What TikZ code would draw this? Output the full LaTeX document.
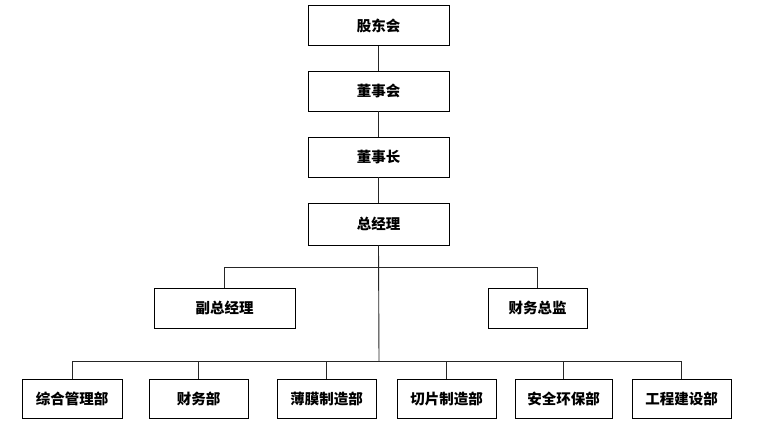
\documentclass[tikz,border=0pt]{standalone}
\usepackage{fontspec}
\newfontfamily\cjk{Noto Sans CJK SC}
\begin{document}
\begin{tikzpicture}[x=1pt,y=-1pt,
  box/.style={draw=black, line width=0.8pt, inner sep=0pt, fill=white,
    font=\cjk\bfseries\fontsize{14.5}{15}\selectfont, minimum height=40pt},
  top/.style={box, minimum width=141pt},
  dept/.style={box, minimum width=99pt, minimum height=39pt},
  conn/.style={line width=0.9pt, draw=black!85}]
\useasboundingbox[fill=white] (0,0) rectangle (763,430);
\node[top] (gd) at (378.5,25.5) {股东会};
\node[top] (dsh) at (378.5,91) {董事会};
\node[top] (dsz) at (378.5,157) {董事长};
\node[top, minimum height=42pt] (zjl) at (378.5,224) {总经理};
\node[top] (fz) at (224.5,308) {副总经理};
\node[box, minimum width=99pt] (cwzj) at (537.5,308) {财务总监};
\node[dept, minimum width=100pt] (d1) at (72,398.5) {综合管理部};
\node[dept] (d2) at (198.5,398.5) {财务部};
\node[dept] (d3) at (326.5,398.5) {薄膜制造部};
\node[dept] (d4) at (446.5,398.5) {切片制造部};
\node[dept, minimum width=97pt] (d5) at (563.5,398.5) {安全环保部};
\node[dept] (d6) at (681.5,398.5) {工程建设部};
\coordinate (b1) at (379,267);
\coordinate (b2) at (379,361);
\draw[conn] (gd) -- (dsh);
\draw[conn] (dsh) -- (dsz);
\draw[conn] (dsz) -- (zjl);
\draw[conn] (zjl.south) -- (b2);
\draw[conn] (b1) -| (fz.north);
\draw[conn] (b1) -| (cwzj.north);
\foreach \d in {d1,d2,d3,d4,d5,d6} {\draw[conn] (b2) -| (\d.north);}
\end{tikzpicture}
\end{document}
